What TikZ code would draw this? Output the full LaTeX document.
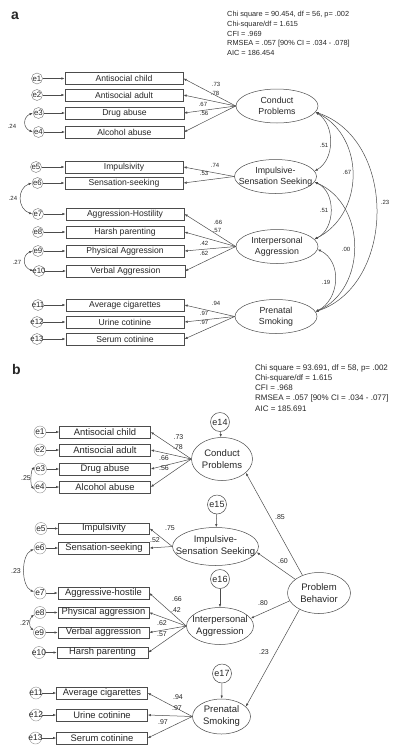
\documentclass[tikz,border=0pt]{standalone}
\usepackage{fontspec}
\setmainfont{Liberation Sans}
\usetikzlibrary{shapes.geometric,arrows.meta}
\begin{document}
\begin{tikzpicture}[x=1pt,y=-1pt,
  every node/.style={text=black!85},
  ln/.style={draw=black!70, line width=0.5pt},
  tip/.tip={Latex[length=3.2pt,width=2.4pt]},
  arr/.style={ln, -tip},
  darr/.style={ln, tip-tip},
  obsa/.style={draw=black!70, line width=0.5pt, minimum width=118.5pt, minimum height=12pt, inner sep=0pt, font=\fontsize{8.6}{10}\selectfont},
  obsb/.style={draw=black!70, line width=0.5pt, minimum width=91pt, minimum height=11.5pt, inner sep=0pt, font=\fontsize{9.4}{11}\selectfont},
  erra/.style={circle, draw=black!55, line width=0.4pt, minimum size=11pt, inner sep=0pt, font=\fontsize{7.8}{9}\selectfont},
  errb/.style={circle, draw=black!45, line width=0.4pt, minimum size=12pt, inner sep=0pt, font=\fontsize{8.4}{9}\selectfont},
  distb/.style={circle, draw=black!70, line width=0.5pt, minimum size=19pt, inner sep=0pt, font=\fontsize{9}{10}\selectfont},
  lata/.style={ellipse, draw=black!70, line width=0.5pt, minimum width=82pt, minimum height=34pt, inner sep=0pt},
  latb/.style={ellipse, draw=black!70, line width=0.5pt, inner sep=0pt},
  lta/.style={align=center, inner sep=0pt, font=\fontsize{8.8}{11}\selectfont},
  ltb/.style={align=center, inner sep=0pt, font=\fontsize{9.5}{12}\selectfont},
  coefa/.style={font=\fontsize{6}{7}\selectfont, inner sep=0pt},
  coefb/.style={font=\fontsize{7}{8}\selectfont, inner sep=0pt},
  panel/.style={font=\fontsize{14}{16}\selectfont\bfseries, inner sep=0pt, anchor=base west},
]
\useasboundingbox (0,0) rectangle (400,755);

% ================= Panel a =================
\node[panel] (pa) at (11,19) {a};
\node[anchor=north west, align=left, inner sep=0pt, font=\fontsize{7.35}{9.7}\selectfont] (stata) at (227,11.3)
 {Chi square = 90.454, df = 56, p= .002\\Chi-square/df = 1.615\\CFI = .969\\RMSEA = .057 [90\% CI = .034 - .078]\\AIC = 186.454};

% observed
\node[obsa] (a1) at (124,78.5) {Antisocial child};
\node[obsa] (a2) at (124,95) {Antisocial adult};
\node[obsa] (a3) at (124.5,113) {Drug abuse};
\node[obsa] (a4) at (124.5,132) {Alcohol abuse};
\node[obsa] (a5) at (124,167) {Impulsivity};
\node[obsa] (a6) at (124,183) {Sensation-seeking};
\node[obsa] (a7) at (125,214) {Aggression-Hostility};
\node[obsa] (a8) at (125,232) {Harsh parenting};
\node[obsa] (a9) at (125,251) {Physical Aggression};
\node[obsa] (a10) at (125.5,271) {Verbal Aggression};
\node[obsa] (a11) at (125,305) {Average cigarettes};
\node[obsa] (a12) at (125,322) {Urine cotinine};
\node[obsa] (a13) at (125,339) {Serum cotinine};

% errors
\node[erra] (ea1) at (37,78.5) {\makebox[0pt]{e1}};
\node[erra] (ea2) at (37,95) {\makebox[0pt]{e2}};
\node[erra] (ea3) at (38.5,113) {\makebox[0pt]{e3}};
\node[erra] (ea4) at (38.5,132) {\makebox[0pt]{e4}};
\node[erra] (ea5) at (36,167) {\makebox[0pt]{e5}};
\node[erra] (ea6) at (37.5,183) {\makebox[0pt]{e6}};
\node[erra] (ea7) at (38,214) {\makebox[0pt]{e7}};
\node[erra] (ea8) at (38,232) {\makebox[0pt]{e8}};
\node[erra] (ea9) at (38,251) {\makebox[0pt]{e9}};
\node[erra] (ea10) at (39,271) {\makebox[0pt]{e10}};
\node[erra] (ea11) at (38,305) {\makebox[0pt]{e11}};
\node[erra] (ea12) at (37,322) {\makebox[0pt]{e12}};
\node[erra] (ea13) at (37,339) {\makebox[0pt]{e13}};

\foreach \i in {1,...,13} {\draw[arr] (ea\i) -- (a\i);}

% latent
\node[lata] (cpa) at (277,106) {};
\node[lta] (cpat) at (cpa) {Conduct\\Problems};
\node[lata] (issa) at (275.5,176.5) {};
\node[lta] (issat) at (issa) {Impulsive-\\Sensation Seeking};
\node[lata] (iaa) at (277,246.5) {};
\node[lta] (iaat) at (iaa) {Interpersonal\\Aggression};
\node[lata] (psa) at (276,316.5) {};
\node[lta] (psat) at (psa) {Prenatal\\Smoking};

\foreach \i in {1,...,4} {\draw[arr] (cpa.west) -- (a\i.east);}
\foreach \i in {5,6} {\draw[arr] (issa.west) -- (a\i.east);}
\foreach \i in {7,...,10} {\draw[arr] (iaa.west) -- (a\i.east);}
\foreach \i in {11,12,13} {\draw[arr] (psa.west) -- (a\i.east);}

% loadings a
\node[coefa] (la1) at (216,84) {.73};
\node[coefa] (la2) at (215,93) {.78};
\node[coefa] (la3) at (203,104) {.67};
\node[coefa] (la4) at (204,113) {.56};
\node[coefa] (la5) at (215,165) {.74};
\node[coefa] (la6) at (204,173) {.53};
\node[coefa] (la7) at (218,222) {.66};
\node[coefa] (la8) at (217,230) {.57};
\node[coefa] (la9) at (204,243) {.42};
\node[coefa] (la10) at (204,253) {.62};
\node[coefa] (la11) at (216,303) {.94};
\node[coefa] (la12) at (204,313) {.97};
\node[coefa] (la13) at (204,322) {.97};

% error covariances a
\draw[darr] (ea3.180) .. controls +(-10,4) and +(-10,-4) .. (ea4.180);
\draw[darr] (ea6.180) .. controls +(-15,5) and +(-15,-5) .. (ea7.180);
\draw[darr] (ea9.180) .. controls +(-10,4) and +(-11,-4) .. (ea10.180);
\node[coefa] (ca1) at (12,126) {.24};
\node[coefa] (ca2) at (13,198) {.24};
\node[coefa] (ca3) at (17,262) {.27};

% latent covariances a
\draw[darr] (cpa.-9) .. controls +(20,13) and +(20,-11) .. (issa.8);
\draw[darr] (cpa.-9) .. controls +(50,25) and +(50,-25) .. (iaa.11);
\draw[darr] (cpa.-9) .. controls +(82,28) and +(80,-27) .. (psa.7);
\draw[darr] (issa.-8) .. controls +(22,10) and +(21,-10) .. (iaa.11);
\draw[darr] (issa.-8) .. controls +(53,23) and +(51,-22) .. (psa.7);
\draw[darr] (iaa.-4) .. controls +(25,12) and +(24,-12) .. (psa.7);
\node[coefa] (cl1) at (324,145) {.51};
\node[coefa] (cl2) at (347,172) {.67};
\node[coefa] (cl3) at (385,202) {.23};
\node[coefa] (cl4) at (324,210) {.51};
\node[coefa] (cl5) at (346,249) {.00};
\node[coefa] (cl6) at (326,282) {.19};

% ================= Panel b =================
\node[panel] (pb) at (12,374) {b};
\node[anchor=north west, align=left, inner sep=0pt, font=\fontsize{8}{10.3}\selectfont] (statb) at (255,364)
 {Chi square = 93.691, df = 58, p= .002\\Chi-square/df = 1.615\\CFI = .968\\RMSEA = .057 [90\% CI = .034 - .077]\\AIC = 185.691};

\node[obsb] (b1) at (105,432) {Antisocial child};
\node[obsb] (b2) at (105,450) {Antisocial adult};
\node[obsb] (b3) at (105,469) {Drug abuse};
\node[obsb] (b4) at (105,487) {Alcohol abuse};
\node[obsb] (b5) at (104,528.5) {Impulsivity};
\node[obsb] (b6) at (104,548) {Sensation-seeking};
\node[obsb] (b7) at (103.5,593) {Aggressive-hostile};
\node[obsb] (b8) at (103.5,612.5) {Physical aggression};
\node[obsb] (b9) at (103.5,632.5) {Verbal aggression};
\node[obsb] (b10) at (102.5,652.5) {Harsh parenting};
\node[obsb] (b11) at (102,693) {Average cigarettes};
\node[obsb] (b12) at (102,715) {Urine cotinine};
\node[obsb] (b13) at (102,738) {Serum cotinine};

\node[errb] (eb1) at (40,432) {\makebox[0pt]{e1}};
\node[errb] (eb2) at (40,450) {\makebox[0pt]{e2}};
\node[errb] (eb3) at (40.5,469) {\makebox[0pt]{e3}};
\node[errb] (eb4) at (40,487) {\makebox[0pt]{e4}};
\node[errb] (eb5) at (41,528.5) {\makebox[0pt]{e5}};
\node[errb] (eb6) at (40,548) {\makebox[0pt]{e6}};
\node[errb] (eb7) at (40,593) {\makebox[0pt]{e7}};
\node[errb] (eb8) at (40,612.5) {\makebox[0pt]{e8}};
\node[errb] (eb9) at (39.5,632.5) {\makebox[0pt]{e9}};
\node[errb] (eb10) at (39,652.5) {\makebox[0pt]{e10}};
\node[errb] (eb11) at (36,693) {\makebox[0pt]{e11}};
\node[errb] (eb12) at (36,715) {\makebox[0pt]{e12}};
\node[errb] (eb13) at (35.5,738) {\makebox[0pt]{e13}};

\foreach \i in {1,...,13} {\draw[arr] (eb\i) -- (b\i);}

\node[latb, minimum width=61pt, minimum height=43pt] (cpb) at (222,459) {};
\node[ltb] (cpbt) at (cpb) {Conduct\\Problems};
\node[latb, minimum width=86pt, minimum height=38pt] (issb) at (215.5,546.5) {};
\node[ltb] (issbt) at (issb) {Impulsive-\\Sensation Seeking};
\node[latb, minimum width=67pt, minimum height=37pt] (iab) at (220,626) {};
\node[ltb] (iabt) at (iab) {Interpersonal\\Aggression};
\node[latb, minimum width=58pt, minimum height=35pt] (psb) at (221.5,716.5) {};
\node[ltb] (psbt) at (psb) {Prenatal\\Smoking};
\node[latb, minimum width=63pt, minimum height=41pt] (pbb) at (319,593) {};
\node[ltb] (pbbt) at (pbb) {Problem\\Behavior};

\node[distb] (e14) at (220,422) {\makebox[0pt]{e14}};
\node[distb] (e15) at (217,504.5) {\makebox[0pt]{e15}};
\node[distb] (e16) at (220,579) {\makebox[0pt]{e16}};
\node[distb] (e17) at (222,673.5) {\makebox[0pt]{e17}};
\draw[arr] (e14) -- (cpb);
\draw[arr] (e15) -- (issb);
\draw[arr] (e16) -- (iab);
\draw[arr] (e17) -- (psb);

\foreach \i in {1,...,4} {\draw[arr] (cpb.west) -- (b\i.east);}
\foreach \i in {5,6} {\draw[arr] (issb.west) -- (b\i.east);}
\foreach \i in {7,...,10} {\draw[arr] (iab.west) -- (b\i.east);}
\foreach \i in {11,12,13} {\draw[arr] (psb.west) -- (b\i.east);}

\draw[arr] (pbb.133) -- (cpb.-30);
\draw[arr] (pbb.150) -- (issb.-8);
\draw[arr] (pbb.195) -- (iab.14);
\draw[arr] (pbb.-140) -- (psb.22);

\node[coefb] (lb1) at (178.5,437) {.73};
\node[coefb] (lb2) at (178,447) {.78};
\node[coefb] (lb3) at (164,458) {.66};
\node[coefb] (lb4) at (164,468.5) {.56};
\node[coefb] (lb5) at (170,528) {.75};
\node[coefb] (lb6) at (155,540) {.52};
\node[coefb] (lb7) at (177,599) {.66};
\node[coefb] (lb8) at (176,610) {.42};
\node[coefb] (lb9) at (162,623) {.62};
\node[coefb] (lb10) at (162,634) {.57};
\node[coefb] (lb11) at (178,697) {.94};
\node[coefb] (lb12) at (177,708) {.97};
\node[coefb] (lb13) at (163,722) {.97};

\draw[darr] (eb3.160) .. controls +(-4,4) and +(-4,-4) .. (eb4.200);
\draw[darr] (eb6.190) .. controls +(-13,6) and +(-13,-6) .. (eb7.170);
\draw[darr] (eb8.200) .. controls +(-5,4) and +(-5,-4) .. (eb9.160);
\node[coefb] (cb1) at (26,478) {.25};
\node[coefb] (cb2) at (16,571) {.23};
\node[coefb] (cb3) at (25,623) {.27};

\node[coefb] (sb1) at (280,517) {.85};
\node[coefb] (sb2) at (283,561) {.60};
\node[coefb] (sb3) at (263,603) {.80};
\node[coefb] (sb4) at (264,652) {.23};
\end{tikzpicture}
\end{document}
